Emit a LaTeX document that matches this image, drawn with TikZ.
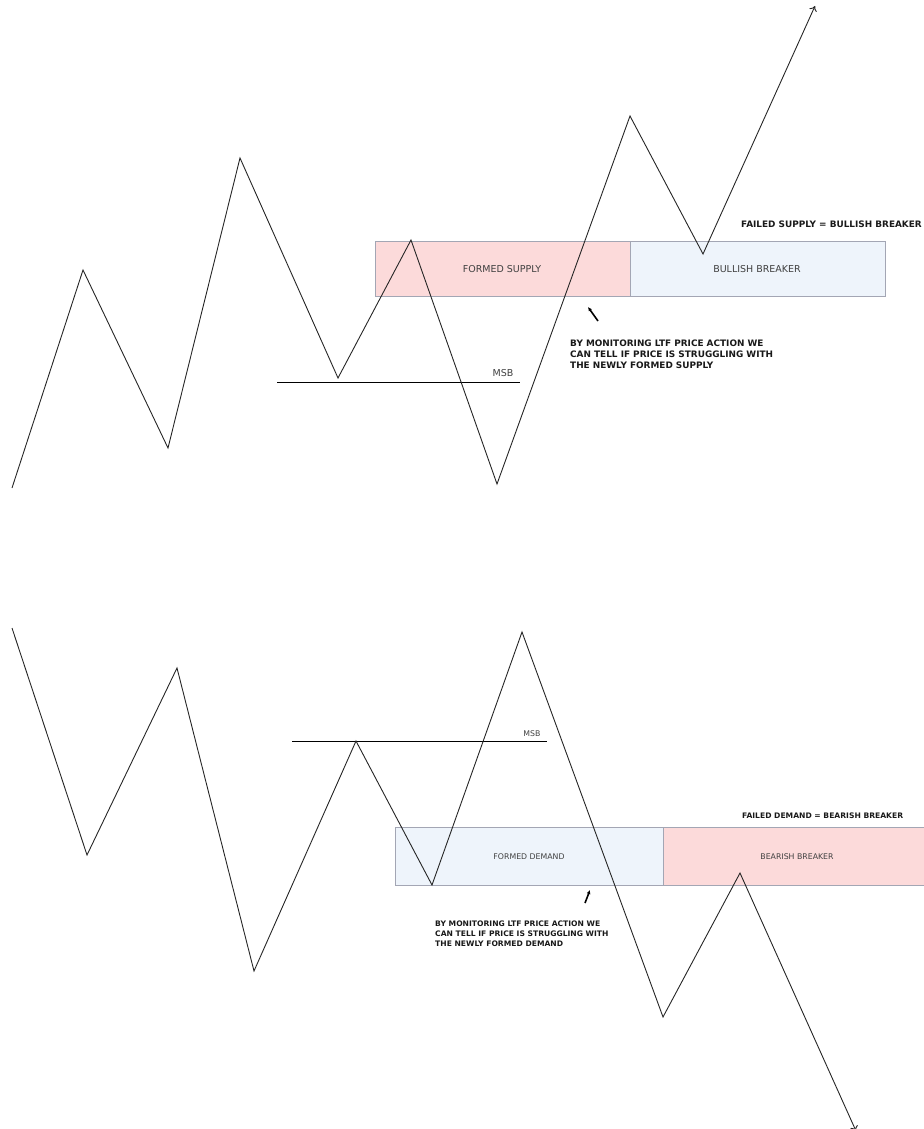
\documentclass[tikz,border=0pt]{standalone}
\usepackage{fontspec}
\setmainfont{DejaVu Sans}
\usetikzlibrary{arrows.meta,positioning}

\definecolor{supplypink}{HTML}{FCDADA}
\definecolor{demandblue}{HTML}{EEF4FB}
\definecolor{zoneedge}{HTML}{A3A6B4}

\tikzset{
  price/.style={line width=0.9pt, black!85, line join=miter},
  zone/.style={draw=zoneedge, line width=0.8pt},
  zonelabel/.style={font=\fontsize{#1}{#1}\selectfont, text=black!75},
  msbline/.style={line width=0.9pt, black},
  note/.style 2 args={font=\bfseries\fontsize{#1}{#2}\selectfont, text=black!90, align=left, inner sep=0pt},
  hint/.style={line width=1.6pt, -{Latex[length=4pt,width=4pt]}},
}

\begin{document}
\begin{tikzpicture}[x=1pt,y=-1pt]
  \useasboundingbox (0,0) rectangle (923,1129);

  % top: failed supply
  \fill[supplypink] (375,241) rectangle (630,296);
  \fill[demandblue] (630,241) rectangle (885,296);
  \draw[zone] (375,241) rectangle (630,296);
  \draw[zone] (630,241) rectangle (885,296);
  \node[zonelabel=9.5] (supply) at (502,269) {FORMED SUPPLY};
  \node[zonelabel=9.5] (bullbrk) at (757,269) {BULLISH BREAKER};

  \coordinate (msbA1) at (277,382);
  \coordinate (msbA2) at (520,382);
  \draw[msbline] (msbA1) -- (msbA2);
  \node[zonelabel=9.5, anchor=base east] (msbA) at (517,376) {MSB};

  \coordinate (a0) at (12,488);
  \coordinate (a1) at (83,270);
  \coordinate (a2) at (168,448);
  \coordinate (a3) at (240,158);
  \coordinate (a4) at (338,378);
  \coordinate (a5) at (411,240);
  \coordinate (a6) at (497,484);
  \coordinate (a7) at (630,116);
  \coordinate (a8) at (703,254);
  \coordinate (a9) at (815,6);
  \draw[price, -{To[length=5pt,width=8pt]}]
    (a0) -- (a1) -- (a2) -- (a3) -- (a4) -- (a5) -- (a6) -- (a7) -- (a8) -- (a9);

  \node[note={8.9}{11}, anchor=base west] (failsup) at (741,227) {FAILED SUPPLY = BULLISH BREAKER};
  \node[note={8.9}{11}, anchor=north west] (ltfA) at (570,340)
    {BY MONITORING LTF PRICE ACTION WE\\CAN TELL IF PRICE IS STRUGGLING WITH\\THE NEWLY FORMED SUPPLY};
  \coordinate (hintA1) at (598,321);
  \coordinate (hintA2) at (588,307);
  \draw[hint] (hintA1) -- (hintA2);

  % bottom: failed demand
  \fill[demandblue] (395,827) rectangle (663,885);
  \fill[supplypink] (663,827) rectangle (925,885);
  \draw[zone] (395,827) rectangle (663,885);
  \draw[zone] (663,827) rectangle (925,885);
  \node[zonelabel=7.8] (demand) at (529,857) {FORMED DEMAND};
  \node[zonelabel=7.8] (bearbrk) at (797,857) {BEARISH BREAKER};

  \coordinate (msbB1) at (292,741);
  \coordinate (msbB2) at (547,741);
  \draw[msbline] (msbB1) -- (msbB2);
  \node[zonelabel=7.8, anchor=base east] (msbB) at (544,736) {MSB};

  \coordinate (b0) at (12,628);
  \coordinate (b1) at (87,855);
  \coordinate (b2) at (177,668);
  \coordinate (b3) at (254,971);
  \coordinate (b4) at (356,741);
  \coordinate (b5) at (432,885);
  \coordinate (b6) at (522,632);
  \coordinate (b7) at (663,1017);
  \coordinate (b8) at (740,873);
  \coordinate (b9) at (856,1131);
  \draw[price, -{To[length=5pt,width=8pt]}]
    (b0) -- (b1) -- (b2) -- (b3) -- (b4) -- (b5) -- (b6) -- (b7) -- (b8) -- (b9);

  \node[note={7.6}{10}, anchor=base west] (faildem) at (742,818) {FAILED DEMAND = BEARISH BREAKER};
  \node[note={7.6}{10}, anchor=north west] (ltfB) at (435,921)
    {BY MONITORING LTF PRICE ACTION WE\\CAN TELL IF PRICE IS STRUGGLING WITH\\THE NEWLY FORMED DEMAND};
  \coordinate (hintB1) at (585,903);
  \coordinate (hintB2) at (590,890);
  \draw[hint] (hintB1) -- (hintB2);
\end{tikzpicture}
\end{document}
